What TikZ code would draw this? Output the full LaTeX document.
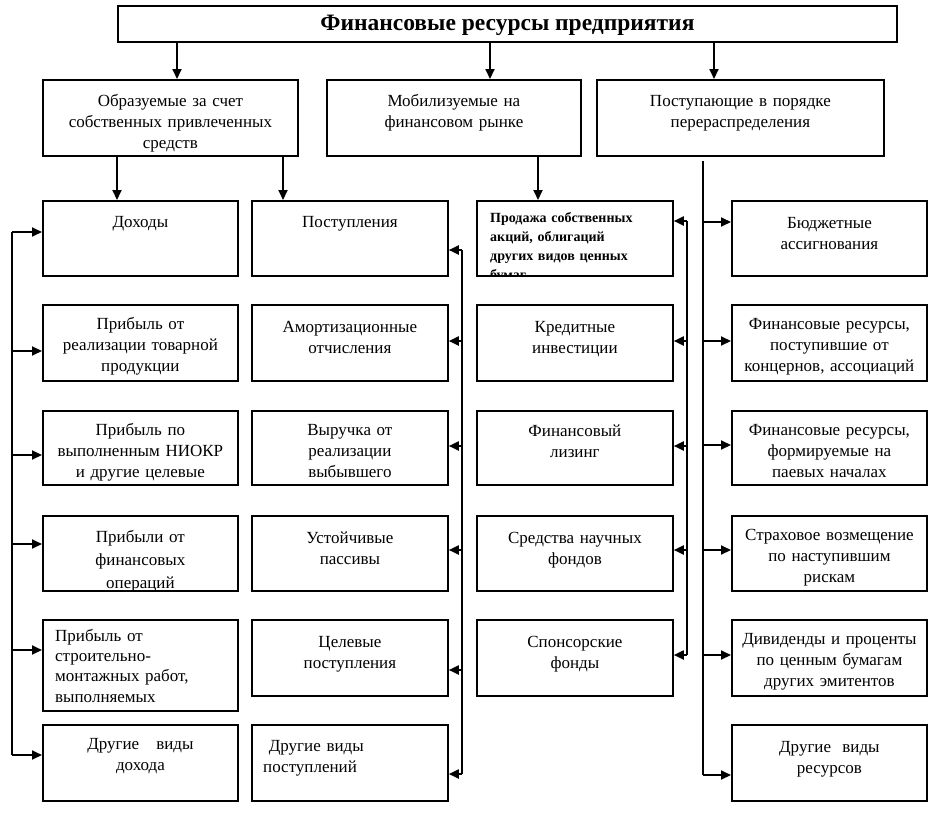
\documentclass[tikz,border=0pt]{standalone}
\usepackage{fontspec}
\setmainfont{Liberation Serif}
\usetikzlibrary{arrows.meta,calc}
\begin{document}
\begin{tikzpicture}[x=1pt,y=-1pt,
  box/.style={draw=black,line width=1.8pt,fill=white,inner sep=0pt,anchor=north west},
  txt/.style={inner sep=0pt,text width=#1pt,align=center,anchor=base,
     font=\fontsize{17}{21}\selectfont},
  txt/.default=190,
  ltxt/.style={inner sep=0pt,text width=#1pt,align=left,anchor=base west,
     font=\fontsize{17}{21}\selectfont},
  ltxt/.default=185,
  line/.style={line width=1.9pt},
  arr/.style={line width=1.9pt,-{Triangle[length=10pt,width=9pt]}}]
\useasboundingbox (0,0) rectangle (941,816);
% box macro: name, x1, y1, x2, y2
\newcommand{\mkbox}[5]{\node[box,minimum width={#4-#2},minimum height={#5-#3}] (#1) at (#2,#3) {};}
% title
\mkbox{title}{117}{5}{896}{41}
\node[inner sep=0pt,font=\bfseries\fontsize{23.5}{26}\selectfont] (titlet) at ([yshift=-1pt]title.center) {Финансовые ресурсы предприятия};
% second row
\mkbox{A}{42}{79}{297}{155}
\mkbox{B}{326}{79}{580}{155}
\mkbox{C}{596}{79}{883}{155}
\node[txt=250] (At) at ([yshift=-27pt]A.north) {Образуемые за счет\\собственных привлеченных\\средств};
\node[txt=250] (Bt) at ([yshift=-27pt]B.north) {Мобилизуемые на\\финансовом рынке};
\node[txt=280] (Ct) at ([yshift=-27pt]C.north) {Поступающие в порядке\\перераспределения};
% column 1
\mkbox{a1}{42}{200}{237}{275}
\mkbox{a2}{42}{304}{237}{380}
\mkbox{a3}{42}{410}{237}{484}
\mkbox{a4}{42}{515}{237}{590}
\mkbox{a5}{42}{619}{237}{710}
\mkbox{a6}{42}{724}{237}{800}
% column 2
\mkbox{b1}{251}{200}{447}{275}
\mkbox{b2}{251}{304}{447}{380}
\mkbox{b3}{251}{410}{447}{484}
\mkbox{b4}{251}{515}{447}{590}
\mkbox{b5}{251}{619}{447}{695}
\mkbox{b6}{251}{724}{447}{800}
% column 3
\mkbox{c1}{476}{200}{672}{275}
\mkbox{c2}{476}{304}{672}{380}
\mkbox{c3}{476}{410}{672}{484}
\mkbox{c4}{476}{515}{672}{590}
\mkbox{c5}{476}{619}{672}{695}
% column 4
\mkbox{d1}{731}{200}{926}{275}
\mkbox{d2}{731}{304}{926}{380}
\mkbox{d3}{731}{410}{926}{484}
\mkbox{d4}{731}{515}{926}{590}
\mkbox{d5}{731}{619}{926}{695}
\mkbox{d6}{731}{724}{926}{800}
% texts column 1
\node[txt] (a1t) at ([yshift=-27pt]a1.north) {Доходы};
\node[txt] (a2t) at ([yshift=-25pt]a2.north) {Прибыль от\\реализации товарной\\продукции};
\node[txt] (a3t) at ([yshift=-25pt]a3.north) {Прибыль по\\выполненным НИОКР\\и другие целевые};
\begin{scope}
\clip (a4.north west) rectangle (a4.south east);
\node[txt,font=\fontsize{17}{23}\selectfont] (a4t) at ([yshift=-27pt]a4.north) {Прибыли от\\финансовых\\операций};
\end{scope}
\node[ltxt] (a5t) at ([xshift=13pt,yshift=-22pt]a5.north west) {\fontsize{17}{20}\selectfont Прибыль от\\строительно-\\монтажных работ,\\выполняемых};
\node[txt] (a6t) at ([yshift=-25pt]a6.north) {Другие\ \ \ виды\\дохода};
% texts column 2
\node[txt] (b1t) at ([yshift=-27pt]b1.north) {Поступления};
\node[txt] (b2t) at ([yshift=-28pt]b2.north) {Амортизационные\\отчисления};
\node[txt] (b3t) at ([yshift=-25pt]b3.north) {Выручка от\\реализации\\выбывшего};
\node[txt] (b4t) at ([yshift=-28pt]b4.north) {Устойчивые\\пассивы};
\node[txt] (b5t) at ([yshift=-28pt]b5.north) {Целевые\\поступления};
\node[ltxt] (b6t) at ([xshift=12pt,yshift=-27pt]b6.north west) {\ Другие виды\\поступлений};
% texts column 3
\begin{scope}
\clip (c1.north west) rectangle (c1.south east);
\node[inner sep=0pt,text width=180pt,align=left,anchor=base west,
  font=\bfseries\fontsize{14}{19}\selectfont] (c1t) at ([xshift=14pt,yshift=-22pt]c1.north west)
  {Продажа собственных\\акций, облигаций\\других видов ценных\\бумаг};
\end{scope}
\node[txt] (c2t) at ([yshift=-28pt]c2.north) {Кредитные\\инвестиции};
\node[txt] (c3t) at ([yshift=-26pt]c3.north) {Финансовый\\лизинг};
\node[txt] (c4t) at ([yshift=-28pt]c4.north) {Средства научных\\фондов};
\node[txt] (c5t) at ([yshift=-28pt]c5.north) {Спонсорские\\фонды};
% texts column 4
\node[txt] (d1t) at ([yshift=-28pt]d1.north) {Бюджетные\\ассигнования};
\node[txt] (d2t) at ([yshift=-25pt]d2.north) {Финансовые ресурсы,\\поступившие от\\концернов, ассоциаций};
\node[txt] (d3t) at ([yshift=-25pt]d3.north) {Финансовые ресурсы,\\формируемые на\\паевых началах};
\node[txt] (d4t) at ([yshift=-25pt]d4.north) {Страховое возмещение\\по наступившим\\рискам};
\node[txt] (d5t) at ([yshift=-25pt]d5.north) {Дивиденды и проценты\\по ценным бумагам\\других эмитентов};
\node[txt] (d6t) at ([yshift=-28pt]d6.north) {Другие\ \ виды\\ресурсов};
% connector guide coordinates
\coordinate (x1) at (177,0);
\coordinate (x2) at (490,0);
\coordinate (x3) at (714,0);
\coordinate (x4) at (117,0);
\coordinate (x5) at (283,0);
\coordinate (x6) at (538,0);
\draw[arr] (title.south -| x1) -- (A.north -| x1);
\draw[arr] (title.south -| x2) -- (B.north -| x2);
\draw[arr] (title.south -| x3) -- (C.north -| x3);
\draw[arr] (A.south -| x4) -- (a1.north -| x4);
\draw[arr] (A.south -| x5) -- (b1.north -| x5);
\draw[arr] (B.south -| x6) -- (c1.north -| x6);
% left bus (column 1)
\coordinate (L1) at (12,232);
\coordinate (L2) at (12,351);
\coordinate (L3) at (12,455);
\coordinate (L4) at (12,544);
\coordinate (L5) at (12,650);
\coordinate (L6) at (12,755);
\draw[line] (L1) -- (L6);
\foreach \i in {1,...,6} {\draw[arr] (L\i) -- (a\i.west |- L\i);}
% column 2 bus
\coordinate (M1) at (462,250);
\coordinate (M2) at (462,341);
\coordinate (M3) at (462,446);
\coordinate (M4) at (462,550);
\coordinate (M5) at (462,670);
\coordinate (M6) at (462,774);
\draw[line] (M1) -- (M6);
\foreach \i in {1,...,6} {\draw[arr] (M\i) -- (b\i.east |- M\i);}
% column 3 bus
\coordinate (N1) at (687,221);
\coordinate (N2) at (687,341);
\coordinate (N3) at (687,446);
\coordinate (N4) at (687,550);
\coordinate (N5) at (687,655);
\draw[line] (N1) -- (N5);
\foreach \i in {1,...,5} {\draw[arr] (N\i) -- (c\i.east |- N\i);}
% column 4 bus
\coordinate (P0) at (703,161);
\coordinate (P1) at (703,222);
\coordinate (P2) at (703,341);
\coordinate (P3) at (703,445);
\coordinate (P4) at (703,550);
\coordinate (P5) at (703,655);
\coordinate (P6) at (703,775);
\draw[line] (P0) -- (P6);
\foreach \i in {1,...,6} {\draw[arr] (P\i) -- (d\i.west |- P\i);}
\end{tikzpicture}
\end{document}
